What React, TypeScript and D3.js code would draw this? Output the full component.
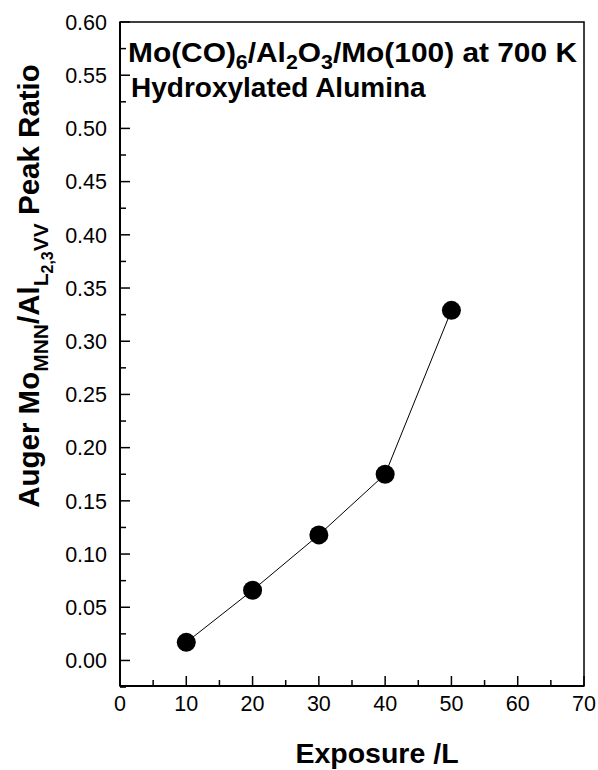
import React from "react";
import * as d3 from "d3";

// exposure (L) vs Auger peak ratio
const exposure = [10, 20, 30, 40, 50];
const ratio = [0.017, 0.066, 0.118, 0.175, 0.329];

const xTicks = [0, 10, 20, 30, 40, 50, 60, 70];
const xMinor = [5, 15, 25, 35, 45, 55, 65];
const yTicks = [0, 0.05, 0.1, 0.15, 0.2, 0.25, 0.3, 0.35, 0.4, 0.45, 0.5, 0.55, 0.6];
const yMinor = [-0.025, 0.025, 0.075, 0.125, 0.175, 0.225, 0.275, 0.325, 0.375, 0.425, 0.475, 0.525, 0.575];

export default function App() {
  const width = 598;
  const height = 770;
  const margin = { top: 22, right: 14, bottom: 84, left: 120 };

  const x = d3.scaleLinear().domain([0, 70]).range([margin.left, width - margin.right]);
  const y = d3.scaleLinear().domain([-0.024, 0.6]).range([height - margin.bottom, margin.top]);

  const line = d3
    .line<number>()
    .x((d, i) => x(exposure[i]))
    .y((d) => y(d));

  const x0 = margin.left;
  const y0 = height - margin.bottom;
  const font = "'Liberation Sans', Arial, sans-serif";

  return (
    <svg width={width} height={height} style={{ position: "absolute", left: 0, top: 0, background: "#fff" }} fontFamily={font}>
      {/* frame */}
      <rect x={x0} y={margin.top} width={width - margin.right - x0} height={y0 - margin.top} fill="none" stroke="#000" strokeWidth={1.5} />
      <line x1={x0} x2={x0} y1={margin.top} y2={y0} stroke="#000" strokeWidth={2} />
      <line x1={x0} x2={width - margin.right} y1={y0} y2={y0} stroke="#000" strokeWidth={2} />

      {/* y ticks */}
      {yTicks.map((t) => (
        <g key={"y" + t}>
          <line x1={x0} x2={x0 + 10} y1={y(t)} y2={y(t)} stroke="#000" strokeWidth={1.5} />
          <text x={x0 - 13} y={y(t)} dy="0.36em" textAnchor="end" fontSize={21.5}>
            {d3.format(".2f")(t)}
          </text>
        </g>
      ))}
      {yMinor.map((t) => (
        <line key={"ym" + t} x1={x0} x2={x0 + 6} y1={y(t)} y2={y(t)} stroke="#000" strokeWidth={1.5} />
      ))}

      {/* x ticks */}
      {xTicks.map((t) => (
        <g key={"x" + t}>
          <line x1={x(t)} x2={x(t)} y1={y0} y2={y0 - 10} stroke="#000" strokeWidth={1.5} />
          <text x={x(t)} y={y0 + 25} textAnchor="middle" fontSize={21.5}>
            {t}
          </text>
        </g>
      ))}
      {xMinor.map((t) => (
        <line key={"xm" + t} x1={x(t)} x2={x(t)} y1={y0} y2={y0 - 6} stroke="#000" strokeWidth={1.5} />
      ))}

      {/* data */}
      <path d={line(ratio) || ""} fill="none" stroke="#000" strokeWidth={1} />
      {ratio.map((v, i) => (
        <circle key={i} cx={x(exposure[i])} cy={y(v)} r={9.5} fill="#000" />
      ))}

      {/* annotation */}
      <text x={128} y={62} fontSize={28} fontWeight="bold" textLength={449} lengthAdjust="spacingAndGlyphs">
        Mo(CO)<tspan fontSize={20} dy={7}>6</tspan>
        <tspan dy={-7}>/Al</tspan>
        <tspan fontSize={20} dy={7}>2</tspan>
        <tspan dy={-7}>O</tspan>
        <tspan fontSize={20} dy={7}>3</tspan>
        <tspan dy={-7}>/Mo(100) at 700 K</tspan>
      </text>
      <text x={131} y={97} fontSize={28} fontWeight="bold">
        Hydroxylated Alumina
      </text>

      {/* axis titles */}
      <text x={377} y={763} textAnchor="middle" fontSize={28.5} fontWeight="bold">
        Exposure /L
      </text>
      <text transform="translate(39,286) rotate(-90)" textAnchor="middle" fontSize={29.5} fontWeight="bold">
        Auger Mo<tspan fontSize={21} dy={9}>MNN</tspan>
        <tspan dy={-9}>/Al</tspan>
        <tspan fontSize={21} dy={9}>L</tspan>
        <tspan fontSize={16} dy={5}>2,3</tspan>
        <tspan fontSize={21} dy={-5}>VV</tspan>
        <tspan dy={-9}> Peak Ratio</tspan>
      </text>
    </svg>
  );
}
